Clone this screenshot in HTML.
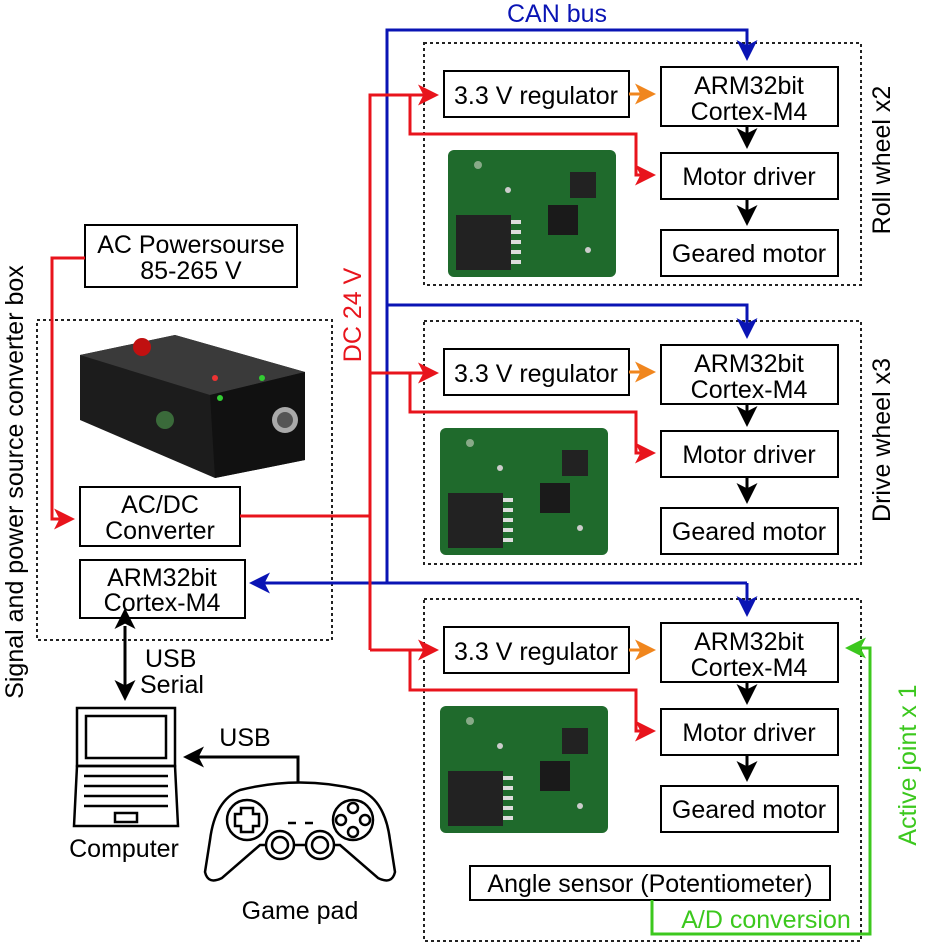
<!DOCTYPE html>
<html><head><style>
html,body{margin:0;padding:0;background:#fff}
svg{display:block}
text{font-family:"Liberation Sans",Arial,sans-serif}
</style></head><body>
<svg width="926" height="948" viewBox="0 0 926 948" xmlns="http://www.w3.org/2000/svg">
<defs>
<marker id="ab" markerWidth="7" markerHeight="7" refX="6" refY="3.5" orient="auto" markerUnits="strokeWidth"><path d="M0,0 L7,3.5 L0,7 L1.8,3.5 z" fill="#0a14b4"/></marker>
<marker id="ar" markerWidth="7" markerHeight="7" refX="6" refY="3.5" orient="auto" markerUnits="strokeWidth"><path d="M0,0 L7,3.5 L0,7 L1.8,3.5 z" fill="#e8141c"/></marker>
<marker id="ao" markerWidth="7" markerHeight="7" refX="6" refY="3.5" orient="auto" markerUnits="strokeWidth"><path d="M0,0 L7,3.5 L0,7 L1.8,3.5 z" fill="#f0861e"/></marker>
<marker id="ak" markerWidth="7" markerHeight="7" refX="6" refY="3.5" orient="auto" markerUnits="strokeWidth"><path d="M0,0 L7,3.5 L0,7 L1.8,3.5 z" fill="#000"/></marker>
<marker id="ak2" markerWidth="7" markerHeight="7" refX="1" refY="3.5" orient="auto-start-reverse" markerUnits="strokeWidth"><path d="M0,0 L7,3.5 L0,7 L1.8,3.5 z" fill="#000"/></marker>
<marker id="ag" markerWidth="7" markerHeight="7" refX="6" refY="3.5" orient="auto" markerUnits="strokeWidth"><path d="M0,0 L7,3.5 L0,7 L1.8,3.5 z" fill="#3cc81e"/></marker>
<g id="pcb">
<rect x="0" y="0" width="168" height="127" rx="6" fill="#1f6a2c"/>
<rect x="8" y="65" width="55" height="55" fill="#222"/>
<g fill="#ddd"><rect x="63" y="70" width="10" height="4"/><rect x="63" y="80" width="10" height="4"/><rect x="63" y="90" width="10" height="4"/><rect x="63" y="100" width="10" height="4"/><rect x="63" y="110" width="10" height="4"/></g>
<rect x="122" y="22" width="26" height="26" fill="#222"/>
<rect x="100" y="55" width="30" height="30" fill="#1a1a1a"/>
<circle cx="30" cy="15" r="4" fill="#8a8"/><circle cx="60" cy="40" r="3" fill="#ccc"/><circle cx="140" cy="100" r="3" fill="#ccc"/>
</g>
</defs>
<rect width="926" height="948" fill="#fff"/>

<g fill="none" stroke="#222" stroke-width="2" stroke-dasharray="3,3">
<rect x="424" y="43" width="437" height="242"/>
<rect x="424" y="321" width="437" height="243"/>
<rect x="424" y="599" width="437" height="342"/>
<rect x="37" y="320" width="295" height="320"/>
</g>

<use href="#pcb" x="448" y="150"/>
<use href="#pcb" x="440" y="428"/>
<use href="#pcb" x="440" y="706"/>

<g>
<polygon points="80,355 175,335 305,372 305,460 215,478 80,420" fill="#1c1c1c"/>
<polygon points="80,355 175,335 305,372 210,395" fill="#3a3a3a"/>
<polygon points="210,395 305,372 305,460 215,478" fill="#111"/>
<circle cx="142" cy="347" r="9" fill="#c01010"/>
<circle cx="285" cy="420" r="13" fill="#aaa"/><circle cx="285" cy="420" r="8" fill="#555"/>
<circle cx="165" cy="420" r="9" fill="#3a6a3a"/>
<circle cx="215" cy="378" r="3" fill="#e33"/><circle cx="262" cy="378" r="3" fill="#3c3"/><circle cx="220" cy="398" r="3" fill="#3c3"/>
</g>

<g fill="#fff" stroke="#000" stroke-width="2">
<rect x="444" y="71" width="185" height="46"/>
<rect x="661" y="67" width="177" height="59"/>
<rect x="661" y="153" width="177" height="46"/>
<rect x="661" y="230" width="177" height="46"/>
<rect x="444" y="349" width="185" height="46"/>
<rect x="661" y="345" width="177" height="59"/>
<rect x="661" y="431" width="177" height="46"/>
<rect x="661" y="508" width="177" height="46"/>
<rect x="444" y="627" width="185" height="46"/>
<rect x="661" y="623" width="177" height="59"/>
<rect x="661" y="709" width="177" height="46"/>
<rect x="661" y="786" width="177" height="46"/>
<rect x="470" y="866" width="360" height="34"/>
<rect x="85" y="225" width="212" height="62"/>
<rect x="80" y="487" width="160" height="59"/>
<rect x="80" y="560" width="165" height="58"/>
</g>
<g font-size="25" text-anchor="middle" fill="#000">
<text x="536" y="104">3.3 V regulator</text>
<text x="749" y="94">ARM32bit</text><text x="749" y="120">Cortex-M4</text>
<text x="749" y="185">Motor driver</text>
<text x="749" y="262">Geared motor</text>
<text x="536" y="382">3.3 V regulator</text>
<text x="749" y="372">ARM32bit</text><text x="749" y="398">Cortex-M4</text>
<text x="749" y="463">Motor driver</text>
<text x="749" y="540">Geared motor</text>
<text x="536" y="660">3.3 V regulator</text>
<text x="749" y="650">ARM32bit</text><text x="749" y="676">Cortex-M4</text>
<text x="749" y="741">Motor driver</text>
<text x="749" y="818">Geared motor</text>
<text x="650" y="892">Angle sensor (Potentiometer)</text>
<text x="191" y="253">AC Powersourse</text><text x="191" y="279">85-265 V</text>
<text x="160" y="513">AC/DC</text><text x="160" y="539">Converter</text>
<text x="162" y="586">ARM32bit</text><text x="162" y="611">Cortex-M4</text>
<text x="145" y="667" text-anchor="start">USB</text><text x="140" y="693" text-anchor="start">Serial</text>
<text x="124" y="857">Computer</text>
<text x="300" y="919">Game pad</text>
<text x="245" y="746">USB</text>
<text transform="translate(890,160) rotate(-90)">Roll wheel x2</text>
<text transform="translate(890,440) rotate(-90)">Drive wheel x3</text>
<text transform="translate(23,482) rotate(-90)">Signal and power source converter box</text>
</g>
<text x="557" y="22" font-size="25" text-anchor="middle" fill="#0a14b4">CAN bus</text>
<text transform="translate(361,315) rotate(-90)" font-size="25" text-anchor="middle" fill="#e8141c">DC 24 V</text>
<text x="766" y="928" font-size="25" text-anchor="middle" fill="#3cc81e">A/D conversion</text>
<text transform="translate(916,765) rotate(-90)" font-size="25" text-anchor="middle" fill="#3cc81e">Active joint x 1</text>

<g fill="none" stroke="#0a14b4" stroke-width="3">
<polyline points="387,583 387,30 747,30 747,58" marker-end="url(#ab)"/>
<polyline points="387,305 747,305 747,336" marker-end="url(#ab)"/>
<polyline points="747,583 747,614" marker-end="url(#ab)"/>
<polyline points="747,583 252,583" marker-end="url(#ab)"/>
</g>

<g fill="none" stroke="#e8141c" stroke-width="3">
<polyline points="240,516 370,516"/>
<polyline points="370,650 370,95 436,95" marker-end="url(#ar)"/>
<polyline points="410,95 410,134 636,134 636,175 653,175" marker-end="url(#ar)"/>
<polyline points="370,373 436,373" marker-end="url(#ar)"/>
<polyline points="410,373 410,412 636,412 636,453 653,453" marker-end="url(#ar)"/>
<polyline points="370,650 436,650" marker-end="url(#ar)"/>
<polyline points="410,650 410,690 636,690 636,731 653,731" marker-end="url(#ar)"/>
<polyline points="85,258 52,258 52,519 72,519" marker-end="url(#ar)"/>
</g>

<g stroke="#f0861e" stroke-width="3">
<line x1="629" y1="94" x2="653" y2="94" marker-end="url(#ao)"/>
<line x1="629" y1="372" x2="653" y2="372" marker-end="url(#ao)"/>
<line x1="629" y1="650" x2="653" y2="650" marker-end="url(#ao)"/>
</g>

<g stroke="#000" stroke-width="3" fill="none">
<line x1="747" y1="126" x2="747" y2="146" marker-end="url(#ak)"/>
<line x1="747" y1="199" x2="747" y2="223" marker-end="url(#ak)"/>
<line x1="747" y1="404" x2="747" y2="424" marker-end="url(#ak)"/>
<line x1="747" y1="477" x2="747" y2="501" marker-end="url(#ak)"/>
<line x1="747" y1="682" x2="747" y2="702" marker-end="url(#ak)"/>
<line x1="747" y1="755" x2="747" y2="779" marker-end="url(#ak)"/>
<line x1="125" y1="626" x2="125" y2="698" marker-start="url(#ak2)" marker-end="url(#ak)"/>
<polyline points="298,790 298,757 186,757" marker-end="url(#ak)"/>
</g>

<polyline points="652,900 652,934 870,934 870,648 848,648" fill="none" stroke="#3cc81e" stroke-width="3" marker-end="url(#ag)"/>

<g fill="none" stroke="#000" stroke-width="2.5">
<rect x="77" y="708" width="98" height="58"/>
<rect x="86" y="716" width="80" height="42"/>
<polygon points="77,766 175,766 178,826 74,826"/>
<line x1="84" y1="776" x2="168" y2="776"/><line x1="84" y1="786" x2="168" y2="786"/><line x1="84" y1="796" x2="168" y2="796"/><line x1="84" y1="806" x2="168" y2="806"/>
<rect x="115" y="813" width="22" height="9"/>
</g>

<g fill="#fff" stroke="#000" stroke-width="2.5">
<path d="M240,790 Q300,775 360,790 Q385,800 390,840 L395,872 Q392,885 378,878 L340,845 L260,845 L222,878 Q208,885 205,872 L210,840 Q215,800 240,790 z"/>
<circle cx="247" cy="820" r="20"/>
<path d="M241,808 h12 v6 h6 v12 h-6 v6 h-12 v-6 h-6 v-12 h6 z"/>
<circle cx="353" cy="820" r="20"/>
<circle cx="353" cy="808" r="5"/><circle cx="353" cy="832" r="5"/><circle cx="341" cy="820" r="5"/><circle cx="365" cy="820" r="5"/>
<circle cx="280" cy="845" r="14"/><circle cx="280" cy="845" r="8"/>
<circle cx="320" cy="845" r="14"/><circle cx="320" cy="845" r="8"/>
<line x1="288" y1="823" x2="296" y2="823"/><line x1="305" y1="823" x2="313" y2="823"/>
</g>
</svg>
</body></html>
